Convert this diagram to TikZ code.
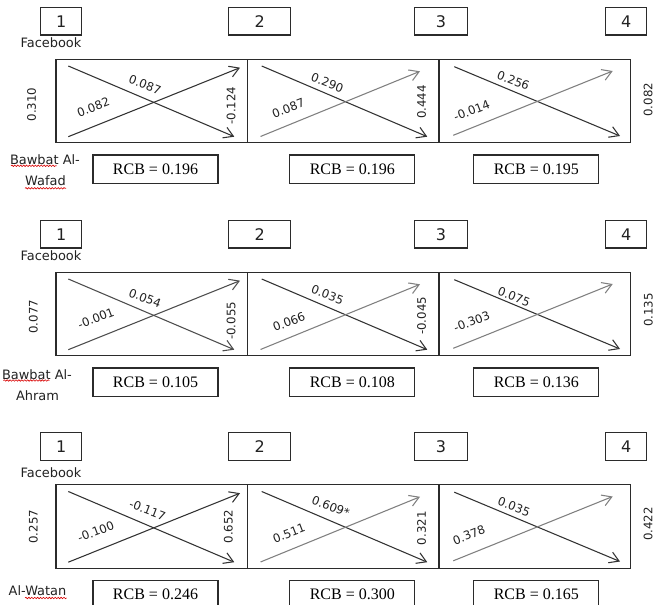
\documentclass[tikz,border=0pt]{standalone}
\usepackage{fontspec}
\setmainfont{Liberation Serif}
\newfontfamily\dv{DejaVu Sans}
\usetikzlibrary{arrows.meta,decorations.pathmorphing}
\definecolor{ln}{HTML}{333333}
\definecolor{lm}{HTML}{4d4d4d}
\definecolor{lg}{HTML}{808080}
\definecolor{bd}{HTML}{2b2b2b}
\definecolor{tx}{HTML}{222222}
\tikzset{
 numbox/.style={draw=bd,line width=1pt,minimum height=20.8pt,inner sep=0pt,text=tx,font=\dv\fontsize{12}{14}\selectfont},
 rcbbox/.style={draw=bd,line width=1pt,minimum width=93.75pt,minimum height=21.2pt,inner sep=0pt,text=black,font=\fontsize{12}{14}\selectfont},
 frame/.style={draw=bd,line width=1pt,inner sep=0pt},
 divider/.style={draw=bd,line width=1pt},
 lbl/.style={font=\dv\fontsize{8.8}{10}\selectfont,inner sep=0pt,text=tx},
 side/.style={font=\dv\fontsize{9.7}{11}\selectfont,inner sep=0pt,text=tx},
 arr/.style={line width=0.8pt,-{Straight Barb[length=7pt,width=8.5pt,line width=0.8pt]}},
 squig/.style={red!85!black,line width=0.45pt,decorate,decoration={snake,segment length=2.2pt,amplitude=0.55pt}}
}
% #1 prefix, #2 y offset, #3 panel-1 colour, #4 #5 #6 RCB texts
\newcommand\rowframe[6]{%
\begin{scope}[shift={(0,#2)}]
 \node[numbox,minimum width=30.75pt] (#1n1) at (61.2,21.2) {1};
 \node[numbox,minimum width=46.5pt] (#1n2) at (259.7,21.2) {2};
 \node[numbox,minimum width=40pt] (#1n3) at (441,21.2) {3};
 \node[numbox,minimum width=30.75pt] (#1n4) at (626.2,21.2) {4};
 \node[frame,minimum width=431pt,minimum height=62.55pt] (#1fr) at (343.35,101) {};
 \coordinate (#1d1t) at (247.7,59.3); \coordinate (#1d1b) at (247.7,142.7);
 \coordinate (#1d2t) at (439,59.3);   \coordinate (#1d2b) at (439,142.7);
 \draw[divider] (#1d1t) -- (#1d1b);
 \draw[divider] (#1d2t) -- (#1d2b);
 % panel 1
 \coordinate (#1a1) at (68.3,66);    \coordinate (#1b1) at (234.3,136.7);
 \coordinate (#1c1) at (68.3,136.7); \coordinate (#1e1) at (240,67.7);
 % panel 2
 \coordinate (#1a2) at (261.7,66);   \coordinate (#1b2) at (427.3,136.7);
 \coordinate (#1c2) at (260.5,136.5);\coordinate (#1e2) at (420,71.3);
 % panel 3
 \coordinate (#1a3) at (454.3,66.7); \coordinate (#1b3) at (620,136);
 \coordinate (#1c3) at (453.3,135.3);\coordinate (#1e3) at (612.7,71);
 \draw[arr,#3] (#1a1) -- (#1b1);
 \draw[arr,#3] (#1c1) -- (#1e1);
 \draw[arr,ln] (#1a2) -- (#1b2);
 \draw[arr,lg] (#1c2) -- (#1e2);
 \draw[arr,ln] (#1a3) -- (#1b3);
 \draw[arr,lg] (#1c3) -- (#1e3);
 \node[rcbbox] (#1r1) at (155.5,169.2) {#4};
 \node[rcbbox] (#1r2) at (352.3,169.2) {#5};
 \node[rcbbox] (#1r3) at (536.3,169.2) {#6};
\end{scope}}

\begin{document}
\begin{tikzpicture}[x=0.75pt,y=-0.75pt]
\clip (0,0) rectangle (654,605);
\fill[white] (0,0) rectangle (654,605);

% ---------------- row 1 ----------------
\rowframe{ra}{0}{ln}{RCB = 0.196}{RCB = 0.196}{RCB = 0.195}
\begin{scope}[shift={(0,0)}]
 \node[side] (rafb) at (51,42.7) {Facebook};
 \node[lbl,rotate=90] (raL) at (31.7,104.5) {0.310};
 \node[lbl,rotate=-21] (rap1d) at (145,85) {0.087};
 \node[lbl,rotate=21] (rap1a) at (93.3,107.3) {0.082};
 \node[lbl,rotate=90] (rap1v) at (231,105.7) {-0.124};
 \node[lbl,rotate=-21] (rap2d) at (327.3,82.7) {0.290};
 \node[lbl,rotate=21] (rap2a) at (288.3,108.3) {0.087};
 \node[lbl,rotate=90] (rap2v) at (421.7,102) {0.444};
 \node[lbl,rotate=-21] (rap3d) at (513.3,80.5) {0.256};
 \node[lbl,rotate=21] (rap3a) at (471.7,110.5) {-0.014};
 \node[lbl,rotate=90] (raR) at (648,99.7) {0.082};
 \node[side] (ras1) at (45,160) {Bawbat Al-};
 \node[side] (ras2) at (45.5,181) {Wafad};
 \coordinate (rau1) at (11,165.8); \coordinate (rau2) at (56.7,165.8);
 \coordinate (rau3) at (25,188.3); \coordinate (rau4) at (66,188.3);
 \draw[squig] (rau1) -- (rau2);
 \draw[squig] (rau3) -- (rau4);
\end{scope}

% ---------------- row 2 ----------------
\rowframe{rb}{213}{lm}{RCB = 0.105}{RCB = 0.108}{RCB = 0.136}
\begin{scope}[shift={(0,213)}]
 \node[side] (rbfb) at (51,43) {Facebook};
 \node[lbl,rotate=90] (rbL) at (33.3,103.7) {0.077};
 \node[lbl,rotate=-21] (rbp1d) at (145,85.3) {0.054};
 \node[lbl,rotate=21] (rbp1a) at (96,105.3) {-0.001};
 \node[lbl,rotate=90] (rbp1v) at (231,107.8) {-0.055};
 \node[lbl,rotate=-21] (rbp2d) at (327.5,82) {0.035};
 \node[lbl,rotate=21] (rbp2a) at (289,108.7) {0.066};
 \node[lbl,rotate=90] (rbp2v) at (421.7,102.8) {-0.045};
 \node[lbl,rotate=-21] (rbp3d) at (514,83.7) {0.075};
 \node[lbl,rotate=21] (rbp3a) at (471.7,108.7) {-0.303};
 \node[lbl,rotate=90] (rbR) at (648.3,97) {0.135};
 \node[side] (rbs1) at (37,162) {Bawbat Al-};
 \node[side] (rbs2) at (37.5,183) {Ahram};
 \coordinate (rbu1) at (3.3,167.5); \coordinate (rbu2) at (49.3,167.5);
 \draw[squig] (rbu1) -- (rbu2);
\end{scope}

% ---------------- row 3 ----------------
\rowframe{rc}{425.5}{ln}{RCB = 0.246}{RCB = 0.300}{RCB = 0.165}
\begin{scope}[shift={(0,425.5)}]
 \node[side] (rcfb) at (51,47.2) {Facebook};
 \node[lbl,rotate=90] (rcL) at (33.3,101.2) {0.257};
 \node[lbl,rotate=-21] (rcp1d) at (147.5,84.5) {-0.117};
 \node[lbl,rotate=21] (rcp1a) at (95.8,106.2) {-0.100};
 \node[lbl,rotate=90] (rcp1v) at (228.3,101) {0.652};
 \node[lbl,rotate=-21] (rcp2d) at (330.8,81.2) {0.609*};
 \node[lbl,rotate=21] (rcp2a) at (289,107.8) {0.511};
 \node[lbl,rotate=90] (rcp2v) at (421.7,102.8) {0.321};
 \node[lbl,rotate=-21] (rcp3d) at (514,81.2) {0.035};
 \node[lbl,rotate=21] (rcp3a) at (469,109.5) {0.378};
 \node[lbl,rotate=90] (rcR) at (648,98.5) {0.422};
 \node[side] (rcs1) at (37.5,165.2) {Al-Watan};
 \coordinate (rcu1) at (25,172.5); \coordinate (rcu2) at (66.7,172.5);
 \draw[squig] (rcu1) -- (rcu2);
\end{scope}
\end{tikzpicture}
\end{document}
